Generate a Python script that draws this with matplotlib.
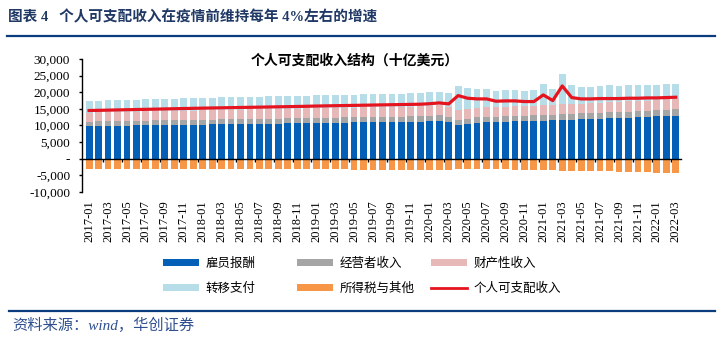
import numpy as np
import matplotlib
matplotlib.use("Agg")
import matplotlib.pyplot as plt
from matplotlib.patches import Patch
from matplotlib.lines import Line2D
from matplotlib.ticker import FuncFormatter, FixedLocator

# ---------------- data (billions of USD) ----------------
months = [f"{y}-{m:02d}" for y in range(2017, 2023) for m in range(1, 13)][:63]

compensation = [
    9800, 9840, 9880, 9920, 9960, 10000, 10040, 10080, 10120, 10160, 10200, 10240,
    10280, 10320, 10360, 10400, 10440, 10480, 10520, 10560, 10600, 10640, 10680, 10720,
    10760, 10800, 10840, 10880, 10920, 10960, 11000, 11040, 11080, 11120, 11160, 11200,
    11300, 11450, 11050, 10300, 10600, 10850, 10950, 11050, 11150, 11250, 11300, 11350,
    11500, 11550, 11700, 11800, 11900, 12000, 12100, 12200, 12300, 12400, 12500, 12600,
    12750, 12850, 13000]

proprietors = [
    1400, 1400, 1410, 1420, 1420, 1430, 1430, 1440, 1440, 1450, 1450, 1460,
    1460, 1470, 1470, 1480, 1480, 1490, 1490, 1500, 1500, 1500, 1510, 1510,
    1510, 1520, 1520, 1530, 1530, 1540, 1540, 1550, 1550, 1550, 1560, 1560,
    1570, 1580, 1480, 1330, 1420, 1560, 1620, 1640, 1650, 1650, 1660, 1660,
    1680, 1690, 1720, 1740, 1750, 1760, 1780, 1790, 1800, 1810, 1830, 1850,
    1870, 1880, 1900]

property_income = [
    2700, 2710, 2720, 2730, 2740, 2750, 2760, 2770, 2780, 2790, 2800, 2810,
    2820, 2830, 2840, 2850, 2860, 2870, 2880, 2890, 2900, 2910, 2920, 2930,
    2940, 2950, 2950, 2960, 2960, 2970, 2970, 2980, 2980, 2990, 2990, 3000,
    3000, 3000, 2980, 2950, 2900, 2880, 2870, 2870, 2880, 2880, 2890, 2900,
    2910, 2920, 2940, 2950, 2960, 2980, 3000, 3010, 3020, 3040, 3050, 3060,
    3080, 3090, 3100]

transfers = [
    3550, 3560, 3580, 3590, 3610, 3620, 3640, 3650, 3670, 3680, 3700, 3710,
    3730, 3740, 3760, 3770, 3790, 3800, 3810, 3820, 3840, 3850, 3850, 3860,
    3860, 3870, 3870, 3880, 3880, 3890, 3890, 3900, 3910, 3920, 3930, 3940,
    4130, 4170, 4240, 7420, 6280, 5610, 5660, 4940, 4920, 4820, 4550, 4690,
    6510, 4840, 9040, 5610, 4890, 4960, 5120, 5100, 4780, 4850, 4820, 4790,
    4600, 4680, 4600]

taxes = [
    -3000, -3010, -3020, -3030, -3040, -3050, -3060, -3070, -3080, -3090, -3100, -3110,
    -3080, -3090, -3100, -3110, -3120, -3130, -3140, -3150, -3160, -3170, -3180, -3190,
    -3200, -3210, -3220, -3230, -3240, -3250, -3260, -3270, -3280, -3290, -3300, -3310,
    -3330, -3340, -3290, -3000, -3050, -3120, -3180, -3200, -3230, -3260, -3280, -3300,
    -3450, -3480, -3550, -3600, -3650, -3700, -3750, -3800, -3850, -3900, -3950, -4000,
    -4150, -4200, -4250]

disposable = [
    14500, 14560, 14620, 14680, 14740, 14800, 14860, 14920, 14980, 15040, 15100, 15160,
    15220, 15270, 15320, 15370, 15420, 15470, 15520, 15570, 15620, 15670, 15720, 15780,
    15850, 15900, 15950, 16000, 16050, 16100, 16150, 16200, 16250, 16300, 16350, 16400,
    16550, 16800, 16500, 19000, 18200, 18000, 18000, 17300, 17400, 17400, 17200, 17200,
    19200, 17500, 21900, 18400, 18000, 18000, 18100, 18100, 18100, 18200, 18200, 18300,
    18300, 18400, 18500]

series_names = ["雇员报酬", "经营者收入", "财产性收入", "转移支付", "所得税与其他", "个人可支配收入"]
colors = ["#0360B6", "#A5A5A5", "#E6B9B8", "#B7DDE8", "#F79646", "#E5141F"]

# ---------------- figure ----------------
W, H = 721, 346
fig = plt.figure(figsize=(W / 100, H / 100), dpi=100)

CJK = ["Noto Sans CJK SC", "DejaVu Sans"]
SER = ["Liberation Serif", "Noto Sans CJK SC"]

ax = fig.add_axes([82 / W, 1 - 192 / H, 599 / W, 133 / H])

x = np.arange(len(months))
bw = 0.72
pos_series = [compensation, proprietors, property_income, transfers]
bottom = np.zeros(len(months))
for vals, c in zip(pos_series, colors[:4]):
    v = np.array(vals, dtype=float)
    ax.bar(x, v, bw, bottom=bottom, color=c, linewidth=0, zorder=2)
    bottom = bottom + v
ax.bar(x, np.array(taxes, dtype=float), bw, color=colors[4], linewidth=0, zorder=2)
ax.plot(x, disposable, color=colors[5], lw=2.3, zorder=4, solid_joinstyle="round")

ax.set_xlim(-0.75, 62.55)
ax.set_ylim(-10000, 30000)

# spines
for s in ["top", "right"]:
    ax.spines[s].set_visible(False)
ax.spines["bottom"].set_position(("data", 0))
ax.spines["left"].set_linewidth(1.0)
ax.spines["bottom"].set_linewidth(1.0)
ax.spines["left"].set_zorder(5)
ax.spines["bottom"].set_zorder(5)

# y ticks
ax.set_yticks(np.arange(-10000, 30001, 5000))
ax.yaxis.set_major_formatter(FuncFormatter(lambda v, p: "-" if v == 0 else f"{int(v):,}"))
ax.tick_params(axis="y", direction="out", length=2.5, width=1.0, pad=6,
               labelsize=9.5)
for t in ax.get_yticklabels():
    t.set_fontfamily(SER)

# x ticks
ax.set_xticks(x[::2])
ax.set_xticklabels(months[::2], rotation=90, fontsize=9, fontfamily=SER)
ax.tick_params(axis="x", which="major", length=0, pad=30)
ax.xaxis.set_minor_locator(FixedLocator(np.arange(1.5, 62, 2)))
ax.tick_params(axis="x", which="minor", direction="out", length=2.5, width=1.0)

# chart title
fig.text(355 / W, 1 - 61 / H, "个人可支配收入结构（十亿美元）", ha="center", va="center",
         fontsize=10, fontweight="bold", family=CJK)

# header
fig.text(8 / W, 1 - 17 / H, "图表 4   个人可支配收入在疫情前维持每年 4%左右的增速",
         ha="left", va="center", fontsize=10.5, fontweight="bold", family=SER,
         color="#1F3864")
fig.add_artist(Line2D([7 / W, 715 / W], [1 - 36 / H, 1 - 36 / H], color="#0B3C7D",
                      lw=1.6, transform=fig.transFigure))
# footer
fig.add_artist(Line2D([9 / W, 715 / W], [1 - 311 / H, 1 - 311 / H], color="#0B3C7D",
                      lw=1.6, transform=fig.transFigure))
fig.text(12 / W, 1 - 325 / H, "资料来源：wind，华创证券", ha="left", va="center",
         fontsize=11, family=SER, style="italic", color="#2F4F8F")

# legend (three columns placed at fixed positions)
handles = [Patch(facecolor=c, edgecolor="none") for c in colors[:5]]
handles.append(Line2D([], [], color=colors[5], lw=2.0))
cols = [(163, [0, 3]), (297, [1, 4]), (431, [2, 5])]
for xpx, idx in cols:
    leg = fig.legend([handles[i] for i in idx], [series_names[i] for i in idx],
                     loc="center left", bbox_to_anchor=(xpx / W, 1 - 276 / H),
                     frameon=False, borderpad=0, borderaxespad=0,
                     handlelength=2.9, handleheight=0.55, handletextpad=0.5,
                     labelspacing=0.95, prop={"family": CJK, "size": 9})

fig.savefig("out.png", dpi=100)
